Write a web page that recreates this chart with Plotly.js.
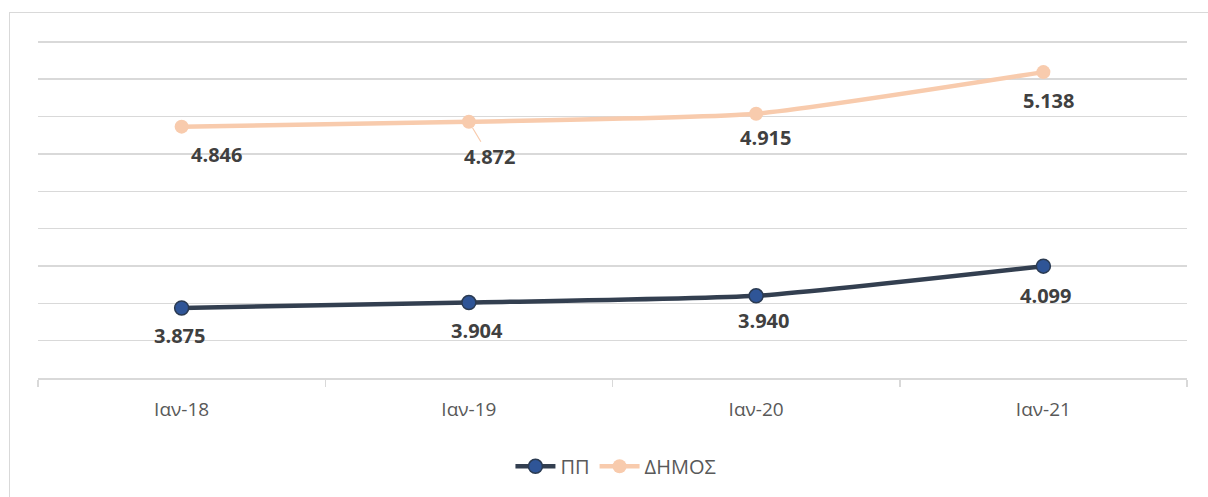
<!DOCTYPE html>
<html>
<head>
<meta charset="utf-8">
<script src="https://cdn.plot.ly/plotly-3.0.1.min.js"></script>
<style>
  html, body { margin: 0; padding: 0; background: #fff; overflow: hidden; }
  #frame { position: absolute; left: 9px; top: 12px; width: 1220px; height: 520px; border: 1px solid #d9d9d9; box-sizing: border-box; }
  #chart { position: absolute; left: 0; top: 0; width: 1208px; height: 497px; }
</style>
</head>
<body>
<div id="frame"></div>
<div id="chart"></div>
<script>
const categories = ["Ιαν-18", "Ιαν-19", "Ιαν-20", "Ιαν-21"];
const ppValues = [3.875, 3.904, 3.940, 4.099];
const dimosValues = [4.846, 4.872, 4.915, 5.138];
const ppLabels = ["3.875", "3.904", "3.940", "4.099"];
const dimosLabels = ["4.846", "4.872", "4.915", "5.138"];
const seriesNames = ["ΠΠ", "ΔΗΜΟΣ"];

// label placement offsets (px), style only
const ppOffsets = [[-2, -28], [8, -28], [7, -25], [2, -29]];
const dimosOffsets = [[35, -28], [21, 35, true], [9, -24], [5, -28]];

const fontFamily = "'Open Sans', 'Noto Sans', sans-serif";

const traces = [
  {
    x: categories, y: ppValues, name: seriesNames[0], type: "scatter", mode: "lines+markers",
    line: { color: "#333F50", width: 4.5, shape: "spline", smoothing: 0.5 },
    marker: { color: "#2F5597", size: 14, line: { color: "#2B3B52", width: 1.5 } },
    hoverinfo: "skip"
  },
  {
    x: categories, y: dimosValues, name: seriesNames[1], type: "scatter", mode: "lines+markers",
    line: { color: "#F8CBAD", width: 4.5, shape: "spline", smoothing: 0.5 },
    marker: { color: "#F8CBAD", size: 14 },
    hoverinfo: "skip"
  }
];

const labelFont = { family: fontFamily, size: 20, color: "#404040", weight: "bold" };
const annotations = [];
function addLabels(vals, labels, offs, arrowColor) {
  vals.forEach((v, i) => {
    const o = offs[i];
    if (o[2]) {
      annotations.push({
        x: categories[i], y: v, text: "<b>" + labels[i] + "</b>", font: labelFont,
        showarrow: true, arrowhead: 0, arrowwidth: 1.2, arrowcolor: arrowColor,
        ax: o[0], ay: o[1], standoff: 7
      });
    } else {
      annotations.push({
        x: categories[i], y: v, text: "<b>" + labels[i] + "</b>", font: labelFont,
        showarrow: false, xshift: o[0], yshift: o[1]
      });
    }
  });
}
addLabels(ppValues, ppLabels, ppOffsets, "#333F50");
addLabels(dimosValues, dimosLabels, dimosOffsets, "#F8CBAD");

const layout = {
  width: 1208, height: 497,
  margin: { l: 38, r: 21, t: 40, b: 118 },
  paper_bgcolor: "rgba(0,0,0,0)", plot_bgcolor: "rgba(0,0,0,0)",
  font: { family: fontFamily, color: "#595959" },
  showlegend: true,
  legend: {
    orientation: "h", x: 0.503, xanchor: "center", y: -0.2, yanchor: "top",
    font: { family: fontFamily, size: 20, color: "#595959" },
    itemwidth: 40, traceorder: "normal"
  },
  xaxis: {
    type: "category", range: [-0.5, 3.5],
    showline: true, linecolor: "#d9d9d9", linewidth: 1.5,
    showgrid: false, zeroline: false,
    ticks: "outside", tickson: "boundaries", ticklen: 7, tickcolor: "#d9d9d9", tickwidth: 1.5,
    tickfont: { family: fontFamily, size: 19, color: "#595959" },
    ticklabelstandoff: 14,
    fixedrange: true
  },
  yaxis: {
    range: [3.5, 5.31], tick0: 3.5, dtick: 0.2,
    showticklabels: false, showgrid: true, gridcolor: "#d9d9d9", gridwidth: 1.5,
    zeroline: false, showline: false, ticks: "", fixedrange: true
  },
  annotations: annotations
};

Plotly.newPlot("chart", traces, layout, { displayModeBar: false, staticPlot: true });
</script>
</body>
</html>
